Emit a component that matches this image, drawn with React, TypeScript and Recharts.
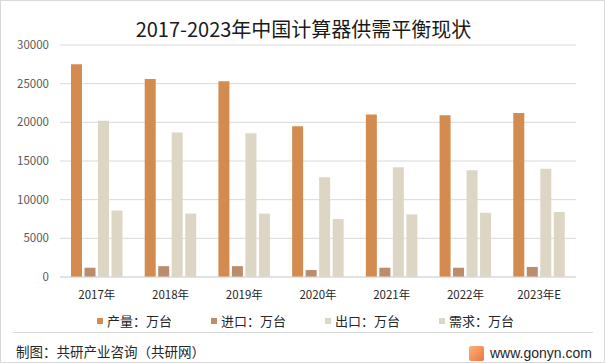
import React from 'react';
import { BarChart, Bar, XAxis, YAxis, CartesianGrid, Legend } from 'recharts';

const categories = ['2017年', '2018年', '2019年', '2020年', '2021年', '2022年', '2023年E'];
const production = [27500, 25600, 25300, 19500, 21000, 20900, 21200];
const imports = [1200, 1400, 1400, 900, 1200, 1200, 1300];
const exports = [20200, 18700, 18600, 12900, 14200, 13800, 14000];
const demand = [8600, 8200, 8200, 7500, 8100, 8300, 8400];
const yTicks = [0, 5000, 10000, 15000, 20000, 25000, 30000];
const seriesNames = ['产量：万台', '进口：万台', '出口：万台', '需求：万台'];

const data = categories.map((c, i) => ({
  name: c,
  p: production[i],
  im: imports[i],
  ex: exports[i],
  d: demand[i],
}));

const CJK = '"Microsoft YaHei", "Noto Sans CJK SC", "Noto Sans", sans-serif';

const renderLegend = (props: any) => {
  const payload = [...(props.payload || [])].sort(
    (a: any, b: any) => seriesNames.indexOf(a.value) - seriesNames.indexOf(b.value)
  );
  return (
    <div style={{ display: 'flex', paddingLeft: 97, fontFamily: CJK, fontSize: 13, color: '#262626', lineHeight: '18px' }}>
      {payload.map((entry: any) => (
        <div key={entry.value} style={{ width: 114, display: 'flex', alignItems: 'center' }}>
          <span style={{ display: 'inline-block', width: 6, height: 6, background: entry.color, marginRight: 4 }} />
          <span>{entry.value}</span>
        </div>
      ))}
    </div>
  );
};

export default function App() {
  return (
    <div
      style={{
        position: 'fixed',
        top: 0,
        left: 0,
        width: 605,
        height: 363,
        boxSizing: 'border-box',
        border: '1px solid #d9d9d9',
        background: '#fff',
        overflow: 'hidden',
      }}
    >
      <div style={{ position: 'absolute', left: -1, top: -1 }}>
        <BarChart
          width={605}
          height={363}
          data={data}
          margin={{ top: 45, right: 29, bottom: 56, left: 0 }}
          barGap={2.5}
          barSize={11}
        >
          <CartesianGrid vertical={false} stroke="#d9d9d9" />
          <XAxis
            dataKey="name"
            axisLine={{ stroke: '#d9d9d9' }}
            tickLine={false}
            tickSize={0}
            tickMargin={14}
            tick={{ fill: '#262626', fontSize: 11.5, fontFamily: CJK }}
          />
          <YAxis
            width={60}
            domain={[0, 30000]}
            ticks={yTicks}
            axisLine={false}
            tickLine={false}
            tickSize={0}
            tickMargin={11}
            tick={{ fill: '#595959', fontSize: 11.5, fontFamily: CJK }}
          />
          <Legend
            content={renderLegend}
            itemSorter={null as any}
            wrapperStyle={{ position: 'absolute', top: 312, left: 0, width: 605, height: 0, overflow: 'visible' }}
          />
          <Bar dataKey="p" name={seriesNames[0]} fill="#D38B4F" isAnimationActive={false} />
          <Bar dataKey="im" name={seriesNames[1]} fill="#BB8D6D" isAnimationActive={false} />
          <Bar dataKey="ex" name={seriesNames[2]} fill="#DDD6C5" isAnimationActive={false} />
          <Bar dataKey="d" name={seriesNames[3]} fill="#DDD6C5" isAnimationActive={false} />
        </BarChart>
      </div>
      <div
        style={{
          position: 'absolute',
          top: 15,
          left: 0,
          width: 605,
          textAlign: 'center',
          fontFamily: CJK,
          fontSize: 20,
          lineHeight: '26px',
          color: '#1a1a1a',
        }}
      >
        2017-2023年中国计算器供需平衡现状
      </div>
      <div style={{ position: 'absolute', top: 331, left: 12, width: 580, height: 1, background: '#d9d9d9' }} />
      <div
        style={{
          position: 'absolute',
          top: 340,
          left: 15,
          fontFamily: CJK,
          fontSize: 13.5,
          lineHeight: '20px',
          color: '#262626',
        }}
      >
        制图：共研产业咨询（共研网）
      </div>
      <div
        style={{
          position: 'absolute',
          top: 345,
          left: 468,
          width: 15,
          height: 15,
          borderRadius: 2,
          background: 'linear-gradient(135deg, #f9b27a, #f0743e)',
        }}
      />
      <div
        style={{
          position: 'absolute',
          top: 342,
          left: 489,
          fontFamily: '"Liberation Sans", Arial, sans-serif',
          fontSize: 14,
          lineHeight: '20px',
          color: '#262626',
        }}
      >
        www.gonyn.com
      </div>
    </div>
  );
}
